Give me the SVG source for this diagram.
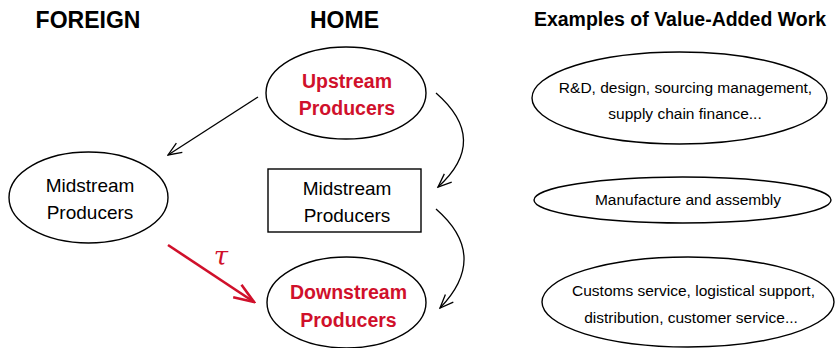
<svg xmlns="http://www.w3.org/2000/svg" width="835" height="348" viewBox="0 0 835 348">
<style>
.shape{fill:#fff;stroke:#000;stroke-width:1.4}
.hdr{font-family:"Liberation Sans",Arial,sans-serif;font-weight:bold;text-anchor:middle;fill:#000}
.lbl{font-family:"Liberation Sans",Arial,sans-serif;font-size:19px;text-anchor:middle;fill:#000}
.red{font-family:"Liberation Sans",Arial,sans-serif;font-size:19.5px;font-weight:bold;text-anchor:middle;fill:#d0102b}
.ex{font-family:"Liberation Sans",Arial,sans-serif;font-size:15.5px;text-anchor:middle;fill:#000}
.conn{fill:none;stroke:#000;stroke-width:1.3}
</style>
<defs>
<marker id="ah" markerUnits="userSpaceOnUse" markerWidth="16" markerHeight="14" viewBox="0 0 16 14" refX="14.5" refY="7" orient="auto">
<path d="M1,1.5 L14.5,7 L1,12.5" fill="none" stroke="#000" stroke-width="1.3"/>
</marker>
<marker id="ahr" markerUnits="userSpaceOnUse" markerWidth="24" markerHeight="20" viewBox="0 0 24 20" refX="22" refY="10" orient="auto">
<path d="M2,2.5 L22,10 L2,17.5" fill="none" stroke="#d0102b" stroke-width="2.6"/>
</marker>
</defs>
<text class="hdr" x="88" y="28" font-size="23">FOREIGN</text>
<text class="hdr" x="344.5" y="28" font-size="23">HOME</text>
<text class="hdr" x="680" y="26" font-size="19.5">Examples of Value-Added Work</text>
<g id="upstream">
<ellipse class="shape" cx="346" cy="93" rx="80" ry="46"/>
<text class="red" x="347" y="88">Upstream</text>
<text class="red" x="347" y="115">Producers</text>
</g>
<g id="foreign-midstream">
<ellipse class="shape" cx="88.5" cy="197.5" rx="79.5" ry="45.5"/>
<text class="lbl" x="90" y="192">Midstream</text>
<text class="lbl" x="90" y="219">Producers</text>
</g>
<g id="home-midstream">
<rect class="shape" x="268" y="169" width="153" height="63"/>
<text class="lbl" x="347" y="195">Midstream</text>
<text class="lbl" x="347" y="222">Producers</text>
</g>
<g id="downstream">
<ellipse class="shape" cx="346.5" cy="302.5" rx="79.5" ry="45.5"/>
<text class="red" x="348.5" y="299">Downstream</text>
<text class="red" x="348.5" y="327">Producers</text>
</g>
<g id="ex-upstream">
<ellipse class="shape" cx="679.5" cy="98" rx="147.5" ry="46"/>
<text class="ex" x="685.5" y="92.5">R&amp;D, design, sourcing management,</text>
<text class="ex" x="685" y="119">supply chain finance...</text>
</g>
<g id="ex-midstream">
<ellipse class="shape" cx="682.5" cy="200" rx="148.5" ry="23"/>
<text class="ex" x="688" y="204.5">Manufacture and assembly</text>
</g>
<g id="ex-downstream">
<ellipse class="shape" cx="688" cy="302" rx="146" ry="45"/>
<text class="ex" x="693.5" y="296">Customs service, logistical support,</text>
<text class="ex" x="691" y="323">distribution, customer service...</text>
</g>
<g id="connectors">
<path class="conn" d="M258,97 L168,155" marker-end="url(#ah)"/>
<path class="conn" d="M436,93 Q490,140 438,187" marker-end="url(#ah)"/>
<path class="conn" d="M436,209 Q490,256 440,308" marker-end="url(#ah)"/>
<path d="M168,245 L254,302" fill="none" stroke="#d0102b" stroke-width="2.6" marker-end="url(#ahr)"/>
<text x="221" y="265" font-family="'DejaVu Serif','Liberation Serif',serif" font-style="italic" font-size="26" fill="#d0102b" text-anchor="middle">τ</text>
</g>
</svg>
